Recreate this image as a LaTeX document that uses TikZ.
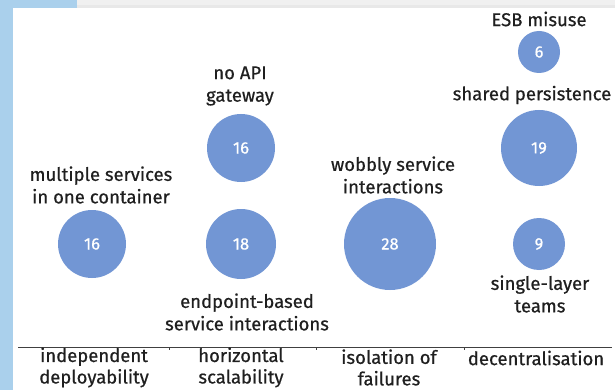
\documentclass[tikz,border=0pt]{standalone}
\usepackage{fontspec}
\setmainfont{Fira Sans}
\newfontfamily\lblfont{Fira Sans}[FakeBold=0.6]
\begin{document}
\begin{tikzpicture}[x=1pt,y=-1pt,
  bubble/.style={circle,fill=bub,inner sep=0pt,text=white,font=\lblfont\fontsize{16.5}{16}\selectfont},
  lbl/.style={align=center,font=\lblfont\fontsize{18.5}{22.5}\selectfont,text=black!88,inner sep=0pt},
  cat/.style={lbl,font=\lblfont\fontsize{18.5}{21.5}\selectfont},
  axis/.style={draw=black!75,line width=0.8pt}]
\definecolor{bub}{RGB}{114,150,212}
\definecolor{edge}{RGB}{170,208,236}
\useasboundingbox (0,0) rectangle (615,390);
\fill[white] (0,0) rectangle (615,390);
% screenshot edges
\fill[gray!12] (77,0) rectangle (615,8);
\fill[gray!18] (77,5) rectangle (615,8);
\fill[edge] (0,0) rectangle (77,8);
\fill[edge] (0,0) rectangle (13,390);
% axis
\coordinate (aL) at (18,347);
\coordinate (aR) at (612,347);
\draw[axis] (aL) -- (aR);
\foreach \x [count=\i] in {169,316,464}{
  \coordinate (t\i) at (\x,347);
  \draw[axis] (t\i) -- ++(0,3);
}
% categories
\node[cat] (c1) at (94,367.5) {independent\\deployability};
\node[cat] (c2) at (241,367.5) {horizontal\\scalability};
\node[cat] (c3) at (389,367.5) {isolation of\\failures};
\node[cat,anchor=center] (c4) at (536,358) {decentralisation};
% bubbles
\node[bubble,minimum size=68pt] (b1) at (92,244) {16};
\node[bubble,minimum size=68pt] (b2) at (241,148) {16};
\node[bubble,minimum size=70pt] (b3) at (241,244) {18};
\node[bubble,minimum size=92pt] (b4) at (390,244) {28};
\node[bubble,minimum size=42pt] (b5) at (539,52) {6};
\node[bubble,minimum size=76pt] (b6) at (539,148) {19};
\node[bubble,minimum size=52pt] (b7) at (539,244) {9};
% labels
\node[lbl] (l1) at (101,185) {multiple services\\in one container};
\node[lbl] (l2) at (240,86) {no API\\gateway};
\node[lbl] (l3) at (247,312) {endpoint-based\\service interactions};
\node[lbl] (l4) at (393,175) {wobbly service\\interactions};
\node[lbl] (l5) at (539,19) {ESB misuse};
\node[lbl] (l6) at (532,95) {shared persistence};
\node[lbl] (l7) at (540,294) {single-layer\\teams};
\end{tikzpicture}
\end{document}
